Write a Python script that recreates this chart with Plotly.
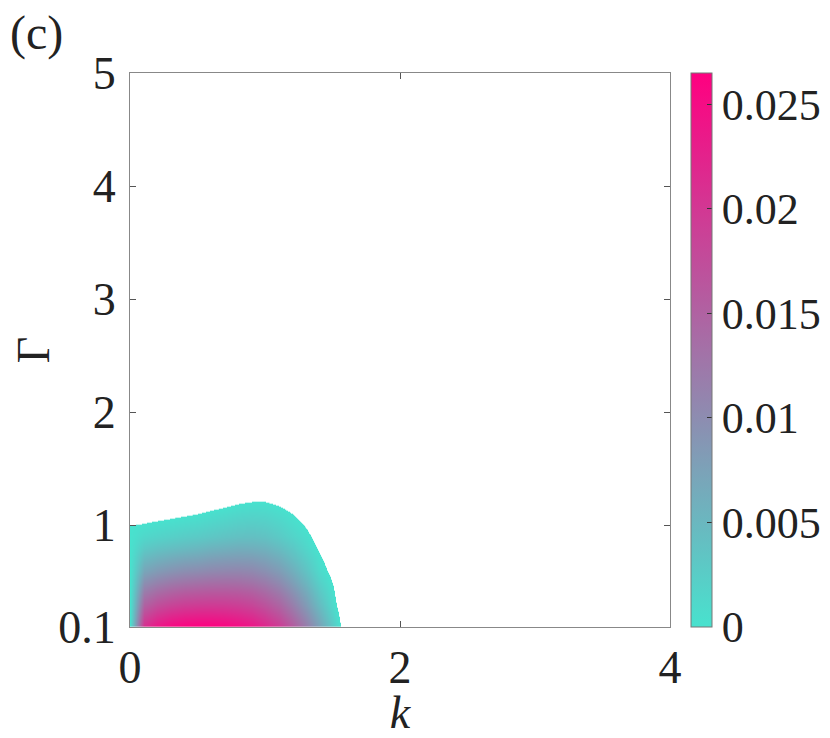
import plotly.graph_objects as go

# Rejilla: k (columnas) y Gamma (filas)
k_vals = [0.0, 0.1, 0.2, 0.3, 0.4, 0.5, 0.6, 0.7, 0.8, 0.9,
          1.0, 1.1, 1.2, 1.3, 1.4, 1.5, 1.6, 1.7]
gamma_vals = [0.1, 0.2, 0.3, 0.4, 0.5, 0.6, 0.7, 0.8, 0.9, 1.0, 1.1, 1.2, 1.3]

# Tasa estimada (valores negativos = zona sin color, en blanco)
rate = [
    [0.0, 0.0210, 0.0240, 0.0255, 0.0263, 0.0265, 0.0264, 0.0260, 0.0252, 0.0240, 0.0220, 0.0195, 0.0160, 0.0118, 0.0075, 0.0028, -0.0020, -0.0050],
    [0.0, 0.0179, 0.0205, 0.0219, 0.0226, 0.0229, 0.0229, 0.0226, 0.0220, 0.0210, 0.0193, 0.0170, 0.0138, 0.0100, 0.0060, 0.0018, -0.0022, -0.0055],
    [0.0, 0.0149, 0.0172, 0.0184, 0.0191, 0.0194, 0.0195, 0.0194, 0.0190, 0.0182, 0.0167, 0.0146, 0.0117, 0.0082, 0.0045, 0.0009, -0.0025, -0.0060],
    [0.0, 0.0121, 0.0140, 0.0151, 0.0158, 0.0161, 0.0163, 0.0163, 0.0161, 0.0155, 0.0142, 0.0123, 0.0097, 0.0066, 0.0032, 0.00037, -0.0030, -0.0065],
    [0.0, 0.0095, 0.0110, 0.0120, 0.0126, 0.0130, 0.0133, 0.0134, 0.0133, 0.0128, 0.0118, 0.0101, 0.0078, 0.0050, 0.0020, -0.00016, -0.0035, -0.0070],
    [0.0, 0.0070, 0.0083, 0.0091, 0.0097, 0.0100, 0.0104, 0.0106, 0.0107, 0.0104, 0.0095, 0.0081, 0.0061, 0.0036, 0.0010, -0.0007, -0.0040, -0.0075],
    [0.0, 0.0048, 0.0058, 0.0065, 0.0070, 0.0073, 0.0078, 0.0081, 0.0082, 0.0081, 0.0074, 0.0062, 0.0044, 0.0024, 0.00038, -0.0012, -0.0045, -0.0080],
    [0.0, 0.0028, 0.0036, 0.0041, 0.0045, 0.0049, 0.0054, 0.0057, 0.0060, 0.0059, 0.0055, 0.0044, 0.0030, 0.0013, -0.00025, -0.0017, -0.0050, -0.0085],
    [0.0, 0.0012, 0.0017, 0.0021, 0.0025, 0.0028, 0.0032, 0.0036, 0.0039, 0.0040, 0.0037, 0.0028, 0.0017, 0.00058, -0.00088, -0.0023, -0.0055, -0.0090],
    [0.0, 0.0002, 0.00049, 0.00079, 0.00111, 0.0014, 0.0018, 0.0022, 0.00256, 0.0027, 0.0025, 0.0018, 0.00085, -0.00014, -0.0015, -0.0028, -0.0060, -0.0095],
    [-0.0010, -0.0008, -0.00073, -0.00052, -0.00028, 0.0, 0.00042, 0.00083, 0.0012, 0.0014, 0.0013, 0.00073, 0.0, -0.00086, -0.0021, -0.0033, -0.0065, -0.0100],
    [-0.0020, -0.0018, -0.0019, -0.0018, -0.0017, -0.0014, -0.00097, -0.00055, -0.00013, 0.00013, 0.00012, -0.00031, -0.00085, -0.0016, -0.0028, -0.0039, -0.0070, -0.0105],
    [-0.0030, -0.0028, -0.0031, -0.0031, -0.0031, -0.0028, -0.0024, -0.0019, -0.0015, -0.0012, -0.0011, -0.0014, -0.0017, -0.0023, -0.0034, -0.0044, -0.0075, -0.0110],
]

cbar_ticks = [0, 0.005, 0.01, 0.015, 0.02, 0.025]
cbar_labels = ["0", "0.005", "0.01", "0.015", "0.02", "0.025"]
y_ticks = [0.1, 1, 2, 3, 4, 5]
y_labels = ["0.1", "1", "2", "3", "4", "5"]
x_ticks = [0, 2, 4]

TURQ = "rgb(72,226,206)"
PINK = "rgb(255,0,128)"
ZMAX = 0.0265
FONT = "Liberation Serif"
TXT = "#222"

fig = go.Figure()

# mapa: por debajo de cero en blanco, de 0 a ZMAX turquesa -> rosa
fig.add_trace(go.Heatmap(
    x=k_vals,
    y=gamma_vals,
    z=rate,
    zsmooth="best",
    zmin=-ZMAX,
    zmax=ZMAX,
    colorscale=[[0, "white"], [0.4999, "white"], [0.5, TURQ], [1, PINK]],
    showscale=False,
    hoverinfo="skip",
))

# traza vacía solo para la barra de color
fig.add_trace(go.Scatter(
    x=[None], y=[None], mode="markers", showlegend=False,
    marker=dict(
        color=[0], cmin=0, cmax=ZMAX,
        colorscale=[[0, TURQ], [1, PINK]],
        showscale=True,
        colorbar=dict(
            x=1.039, xanchor="left", xpad=0,
            y=0.5, yanchor="middle", ypad=0,
            len=1, lenmode="fraction",
            thickness=21,
            outlinecolor="#777", outlinewidth=1,
            ticks="inside", ticklen=5, tickcolor="#333",
            tickvals=cbar_ticks, ticktext=cbar_labels,
            tickfont=dict(family=FONT, size=44, color=TXT),
        ),
    ),
))

axis_common = dict(
    showgrid=False, zeroline=False, automargin=False,
    showline=True, linecolor="#888", linewidth=1, mirror="allticks",
    ticks="inside", ticklen=6, tickcolor="#555",
    tickfont=dict(family=FONT, size=46, color=TXT),
)

fig.update_xaxes(
    range=[0, 4], tickvals=x_ticks, ticklabelstandoff=0,
    title=dict(text="<i>k</i>", font=dict(family=FONT, size=46, color=TXT), standoff=11),
    **axis_common,
)
fig.update_yaxes(
    range=[0.1, 5], tickvals=y_ticks, ticktext=y_labels, ticklabelstandoff=4,
    title=dict(text="Γ", font=dict(family=FONT, size=46, color=TXT), standoff=14),
    **axis_common,
)

fig.add_annotation(
    text="(c)", xref="paper", yref="paper", x=-0.226, y=1.072,
    xanchor="left", yanchor="middle", showarrow=False,
    font=dict(family=FONT, size=48, color=TXT),
)

# la página añade 8 px de margen al body: la figura es 8 px menor
fig.update_layout(
    width=822, height=730, autosize=False,
    margin=dict(l=122, r=160, t=65, b=111, autoexpand=False),
    plot_bgcolor="white", paper_bgcolor="white",
    showlegend=False,
)

fig.write_html("out.html")
